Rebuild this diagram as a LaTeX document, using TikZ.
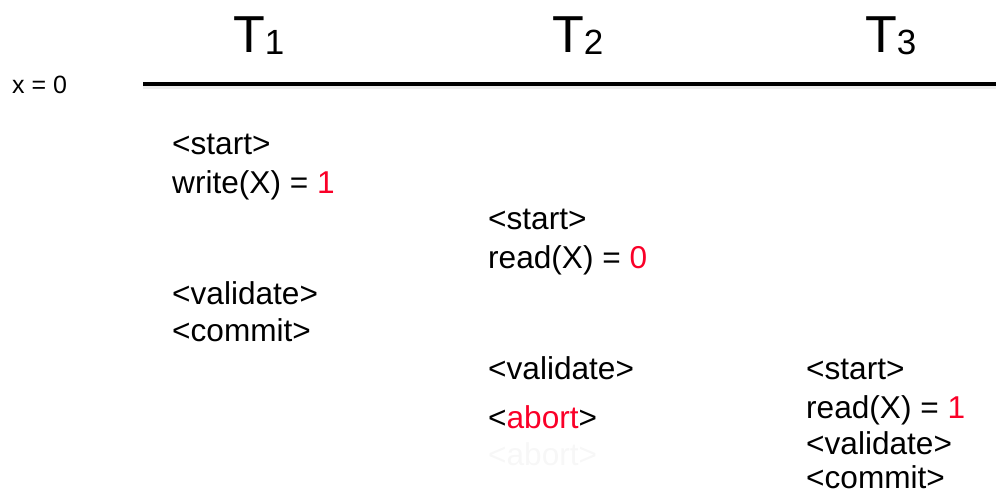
\documentclass[tikz,border=0pt]{standalone}
\usepackage{fontspec}
\setmainfont{Liberation Sans}

\definecolor{valred}{RGB}{250,0,40}

\tikzset{
  op/.style={anchor=base west, inner sep=0pt, font=\fontsize{31.6}{37}\selectfont},
  txname/.style={anchor=base west, inner sep=0pt, font=\fontsize{52}{52}\selectfont},
  ghost/.style={op, text=black!3}
}
\newcommand{\txsub}[1]{\raisebox{-2pt}{\fontsize{35}{35}\selectfont #1}}

\begin{document}
\begin{tikzpicture}[
  x=1pt,
  y=-1pt
]
\useasboundingbox (0,0) rectangle (996,493);

%--------------------
% Transacciones
%--------------------
\foreach \i/\xx in {1/233,2/552,3/865} {
  \node[txname] (T\i) at (\xx,52) {T\txsub{\i}};
}

\node[anchor=base west, inner sep=0pt, font=\fontsize{25}{25}\selectfont] (x0) at (12,93) {x = 0};

%--------------------
% Linea de tiempo
%--------------------
\coordinate (lineL) at (143,84);
\coordinate (lineR) at (996,84);
\draw[line width=5pt, black!7] ([yshift=-2pt]lineL) -- ([yshift=-2pt]lineR);
\draw[line width=4pt] (lineL) -- (lineR);

%--------------------
% T1
%--------------------
\node[op] (t1start) at (172,154) {<start>};
\node[op] (t1write) at (172,193) {write(X) = \textcolor{valred}{1}};
\node[op] (t1valid) at (172,304) {<validate>};
\node[op] (t1commit) at (172,341) {<commit>};

%--------------------
% T2
%--------------------
\node[op] (t2start) at (488,229) {<start>};
\node[op] (t2read) at (488,268) {read(X) = \textcolor{valred}{0}};
\node[op] (t2valid) at (488,379) {<validate>};
\node[ghost] (t2ghost) at (488,465) {<abort>};
\node[op] (t2abort) at (488,428) {<\textcolor{valred}{abort}>};

%--------------------
% T3
%--------------------
\node[op] (t3start) at (806,379) {<start>};
\node[op] (t3read) at (806,418) {read(X) = \textcolor{valred}{1}};
\node[op] (t3valid) at (806,454) {<validate>};
\node[op] (t3commit) at (806,488) {<commit>};

\end{tikzpicture}
\end{document}
